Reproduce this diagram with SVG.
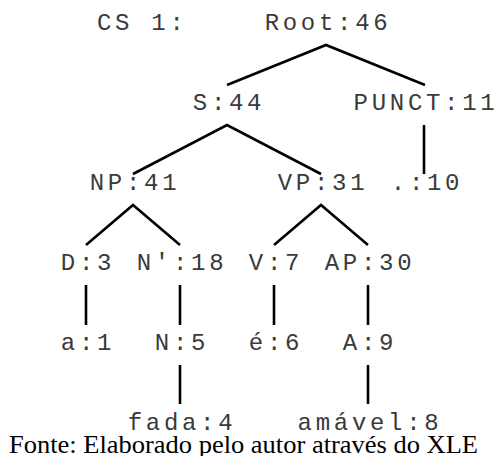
<svg xmlns="http://www.w3.org/2000/svg" width="495" height="456" viewBox="0 0 495 456">
<style>
.t{font-family:"Liberation Mono","DejaVu Sans Mono",monospace;font-size:24px;letter-spacing:3.7px;fill:#3a3a3a;text-anchor:middle}
.e{stroke:#000;stroke-width:2.6;fill:none;stroke-linecap:butt}
.cap{font-family:"Liberation Serif","Times New Roman",serif;font-size:25px;fill:#000}
</style>
<rect width="495" height="456" fill="#fff"/>
<g id="connectors">
<path class="e" d="M227,85 L326,45 L425,85"/>
<path class="e" d="M133,174 L227,125 L321,174"/>
<path class="e" d="M424,125 L424,174"/>
<path class="e" d="M86,245 L133,205 L180,245"/>
<path class="e" d="M274,245 L321,205 L368,245"/>
<path class="e" d="M86,285 L86,325"/>
<path class="e" d="M180,285 L180,325"/>
<path class="e" d="M274,285 L274,325"/>
<path class="e" d="M368,285 L368,325"/>
<path class="e" d="M180,365 L180,404"/>
<path class="e" d="M368,365 L368,404"/>
</g>
<g id="cs"><text class="t" x="97" y="30" style="text-anchor:start">CS 1:</text></g>
<g id="root"><text class="t" x="328" y="30">Root:46</text></g>
<g id="s"><text class="t" x="229" y="110">S:44</text></g>
<g id="punct"><text class="t" x="426" y="110">PUNCT:11</text></g>
<g id="np"><text class="t" x="135" y="190">NP:41</text></g>
<g id="vp"><text class="t" x="323" y="190">VP:31</text></g>
<g id="dot"><text class="t" x="427" y="190">.:10</text></g>
<g id="d"><text class="t" x="88" y="270">D:3</text></g>
<g id="nbar"><text class="t" x="182" y="270">N':18</text></g>
<g id="v"><text class="t" x="276" y="270">V:7</text></g>
<g id="ap"><text class="t" x="370" y="270">AP:30</text></g>
<g id="a"><text class="t" x="88" y="350">a:1</text></g>
<g id="n"><text class="t" x="182" y="350">N:5</text></g>
<g id="e6"><text class="t" x="276" y="350">é:6</text></g>
<g id="adj"><text class="t" x="370" y="350">A:9</text></g>
<g id="fada"><text class="t" x="182" y="430">fada:4</text></g>
<g id="amavel"><text class="t" x="370" y="430">amável:8</text></g>
<text class="cap" x="9" y="453" textLength="469" lengthAdjust="spacingAndGlyphs">Fonte: Elaborado pelo autor através do XLE</text>
</svg>
